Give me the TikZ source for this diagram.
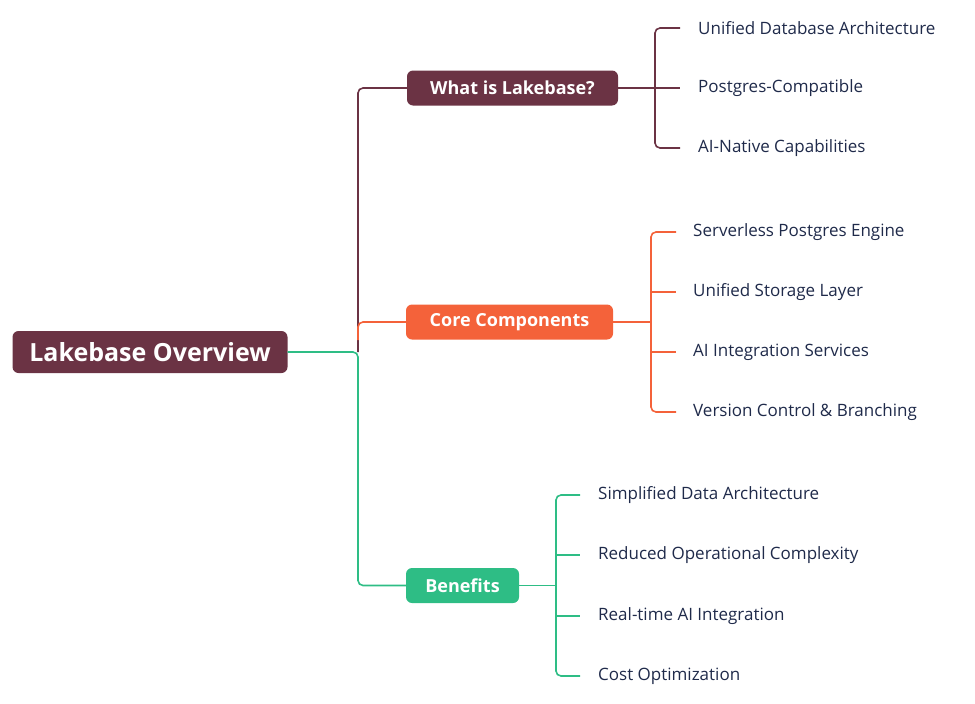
\documentclass[tikz,border=0pt]{standalone}
\usepackage{fontspec}
\setmainfont{Open Sans}
\definecolor{maroon}{HTML}{6B3344}
\definecolor{orng}{HTML}{F4623A}
\definecolor{grn}{HTML}{2EBD85}
\definecolor{navy}{HTML}{1F2A4A}
\begin{document}
\begin{tikzpicture}[x=1pt,y=-1pt,
  box/.style={rounded corners=6pt,text=white,font=\fontsize{18}{20}\selectfont\bfseries,minimum height=35pt,inner xsep=0pt},
  leaf/.style={anchor=west,text=navy,font=\fontsize{17}{20}\selectfont,inner sep=0pt},
  ln/.style={line width=1.6pt,rounded corners=5pt}]
\useasboundingbox (0,0) rectangle (975,704);
\node[box,fill=maroon,minimum width=275pt,minimum height=42pt,font=\fontsize{25}{28}\selectfont\bfseries] (root) at (150,352) {Lakebase Overview};
\node[box,fill=maroon,minimum width=211pt] (what) at (512.5,88) {What is Lakebase?};
\node[box,fill=orng,minimum width=207pt] (core) at (509.5,322) {Core Components};
\node[box,fill=grn,minimum width=113pt] (ben) at (462.5,585.5) {Benefits};
\coordinate (j) at (358,352);
\draw[ln,maroon] (j) -- (358,88) -- (what.west);
\draw[ln,orng] (358,340) -- (358,322) -- (core.west);
\draw[ln,grn] (root.east) -- (j) -- (358,585.5) -- (ben.west);
% what leaves
\node[leaf] (w1) at (698,28) {Unified Database Architecture};
\node[leaf] (w2) at (698,88) {Postgres-Compatible};
\node[leaf] (w3) at (698,148) {AI-Native Capabilities};
\draw[ln,maroon] (what.east) -- (680,88);
\draw[ln,maroon] (680,28) -- (655,28) -- (655,148) -- (680,148);
% core leaves
\node[leaf] (c1) at (693,232) {Serverless Postgres Engine};
\node[leaf] (c2) at (693,292) {Unified Storage Layer};
\node[leaf] (c3) at (693,352) {AI Integration Services};
\node[leaf] (c4) at (693,412) {Version Control \& Branching};
\draw[ln,orng] (core.east) -- (651,322);
\draw[ln,orng] (676,232) -- (651,232) -- (651,412) -- (676,412);
\draw[ln,orng] (651,292) -- (676,292);
\draw[ln,orng] (651,352) -- (676,352);
% benefits leaves
\node[leaf] (b1) at (598,495) {Simplified Data Architecture};
\node[leaf] (b2) at (598,555) {Reduced Operational Complexity};
\node[leaf] (b3) at (598,616) {Real-time AI Integration};
\node[leaf] (b4) at (598,676) {Cost Optimization};
\draw[ln,grn] (ben.east) -- (556,585.5);
\draw[ln,grn] (580,495) -- (556,495) -- (556,676) -- (580,676);
\draw[ln,grn] (556,555) -- (580,555);
\draw[ln,grn] (556,616) -- (580,616);
\end{tikzpicture}
\end{document}
